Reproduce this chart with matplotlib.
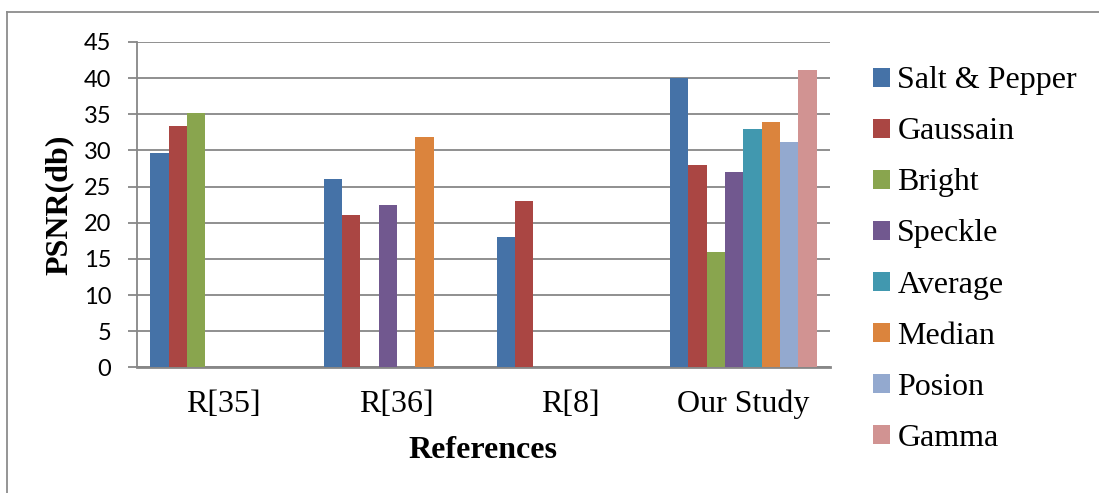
import matplotlib
matplotlib.use("Agg")
import matplotlib.pyplot as plt
import numpy as np
from matplotlib.patches import Patch
from matplotlib.lines import Line2D

categories = ["R[35]", "R[36]", "R[8]", "Our Study"]
series_names = ["Salt & Pepper", "Gaussain", "Bright", "Speckle",
                "Average", "Median", "Posion", "Gamma"]
salt_pepper = [29.7, 26.0, 18.0, 40.0]
gaussain    = [33.4, 21.1, 23.0, 28.0]
bright      = [35.2, 0, 0, 16.0]
speckle     = [0, 22.4, 0, 27.0]
average     = [0, 0, 0, 33.0]
median      = [0, 31.8, 0, 34.0]
posion      = [0, 0, 0, 31.1]
gamma       = [0, 0, 0, 41.1]
series_values = [salt_pepper, gaussain, bright, speckle, average, median, posion, gamma]
colors = ["#4572A7", "#AA4643", "#89A54E", "#71588F",
          "#4198AF", "#DB843D", "#93A9CF", "#D19392"]
yticks = [0, 5, 10, 15, 20, 25, 30, 35, 40, 45]

W, H = 1099, 493
fig = plt.figure(figsize=(W / 100, H / 100), dpi=100)
ax = fig.add_axes([137 / W, 1 - 367.3 / H, (830 - 137) / W, (367.3 - 42) / H])

x = np.arange(len(categories))
bw = 0.1058
n = len(series_names)
for j, (name, vals, c) in enumerate(zip(series_names, series_values, colors)):
    ax.bar(x + (j - (n - 1) / 2) * bw, vals, width=bw, color=c, label=name,
           edgecolor="none", zorder=3)

ax.set_xlim(-0.5, len(categories) - 0.5)
ax.set_ylim(0, 45)
ax.set_yticks(yticks)
ax.set_yticklabels([str(v) for v in yticks], fontfamily="Lato", fontsize=17)
ax.set_xticks(x)
ax.set_xticklabels(categories, fontfamily="Liberation Serif", fontsize=23)

gridc = "#878787"
ax.yaxis.grid(True, color=gridc, linewidth=1.3, zorder=0)
ax.set_axisbelow(True)
for s in ["top", "right"]:
    ax.spines[s].set_visible(False)
ax.spines["left"].set_color(gridc)
ax.spines["left"].set_linewidth(1.3)
ax.spines["bottom"].set_color(gridc)
ax.spines["bottom"].set_linewidth(2.0)
ax.tick_params(axis="y", direction="out", length=6.5, width=1.3, color=gridc, pad=12)
ax.tick_params(axis="x", length=0, pad=16)

fig.text(59 / W, 1 - 205 / H, "PSNR(db)", rotation=90, ha="center", va="center",
         fontfamily="Liberation Serif", fontweight="bold", fontsize=23)
fig.text(483 / W, 1 - 450 / H, "References", ha="center", va="center",
         fontfamily="Liberation Serif", fontweight="bold", fontsize=23)

handles = [Patch(facecolor=c, edgecolor="none") for c in colors]
leg = fig.legend(handles, series_names, loc="center left",
                 bbox_to_anchor=(873 / W, 1 - 259.5 / H), frameon=False,
                 prop={"family": "Liberation Serif", "size": 23},
                 handlelength=0.54, handleheight=0.54, handletextpad=0.22,
                 labelspacing=0.69, borderpad=0, borderaxespad=0)

# chart border (top and left)
fig.add_artist(Line2D([7 / W, 1.0], [1 - 12 / H, 1 - 12 / H], color="#8c8c8c",
                      linewidth=1.3, transform=fig.transFigure))
fig.add_artist(Line2D([7 / W, 7 / W], [1 - 12 / H, 0.0], color="#8c8c8c",
                      linewidth=1.3, transform=fig.transFigure))

fig.savefig("out.png", dpi=100)
